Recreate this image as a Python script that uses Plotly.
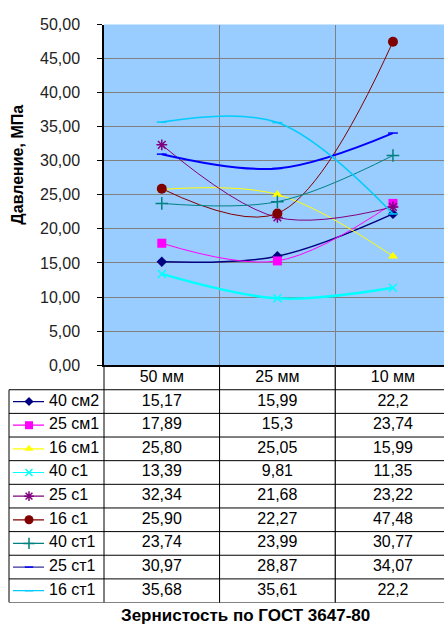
import plotly.graph_objects as go

# ---------------- data ----------------
categories = ["50 мм", "25 мм", "10 мм"]
series_names = ["40 см2", "25 см1", "16 см1", "40 с1", "25 с1",
                "16 с1", "40 ст1", "25 ст1", "16 ст1"]
s_40sm2 = ["15,17", "15,99", "22,2"]
s_25sm1 = ["17,89", "15,3", "23,74"]
s_16sm1 = ["25,80", "25,05", "15,99"]
s_40s1 = ["13,39", "9,81", "11,35"]
s_25s1 = ["32,34", "21,68", "23,22"]
s_16s1 = ["25,90", "22,27", "47,48"]
s_40st1 = ["23,74", "23,99", "30,77"]
s_25st1 = ["30,97", "28,87", "34,07"]
s_16st1 = ["35,68", "35,61", "22,2"]
series_text = [s_40sm2, s_25sm1, s_16sm1, s_40s1, s_25s1,
               s_16s1, s_40st1, s_25st1, s_16st1]
y_ticks = [0, 5, 10, 15, 20, 25, 30, 35, 40, 45, 50]

# ---------------- style ----------------
colors = ["#000080", "#FF00FF", "#FFFF00", "#00FFFF", "#800080",
          "#800000", "#008080", "#0000FF", "#00CCFF"]
key_colors = ["#000080", "#FF00FF", "#FFFF00", "#00FFFF", "#800080",
              "#800000", "#008080", "#333399", "#00CCFF"]
symbols = ["diamond", "square", "triangle-up", "x-thin", "asterisk-open",
           "circle", "cross-thin", "line-ew", "line-ew"]
msizes = [8, 9, 9, 8, 9, 10, 9, 7, 7]
lwidths = [1.5, 1, 1, 2.5, 1, 1, 1, 2, 1.5]

W, H = 444, 631
FONT = "Arial, Liberation Sans, sans-serif"


def px(x):
    return x / W


def py(y):
    return 1 - y / H


x_idx = list(range(len(categories)))
fig = go.Figure()

# plot lines
for name, txt, c, sym, ms, lw in zip(series_names, series_text, colors,
                                     symbols, msizes, lwidths):
    vals = [float(t.replace(",", ".")) for t in txt]
    open_sym = sym in ("x-thin", "asterisk-open", "cross-thin", "line-ew")
    fig.add_trace(go.Scatter(
        x=x_idx, y=vals, mode="lines+markers", name=name,
        line=dict(color=c, width=lw, shape="spline", smoothing=1.0),
        marker=dict(symbol=sym, size=ms, color=c,
                    line=dict(color=c, width=1.5 if open_sym else 0)),
        xaxis="x", yaxis="y", showlegend=False, cliponaxis=False))

# table header
fig.add_trace(go.Scatter(
    x=x_idx, y=[-1] * len(categories), text=categories, mode="text",
    textfont=dict(family=FONT, size=16, color="black"),
    xaxis="x", yaxis="y2", showlegend=False, cliponaxis=False))

# table values + legend keys
for i, (name, txt, c, kc, sym, ms) in enumerate(zip(
        series_names, series_text, colors, key_colors, symbols, msizes)):
    fig.add_trace(go.Scatter(
        x=x_idx, y=[i] * len(txt), text=txt, mode="text",
        textfont=dict(family=FONT, size=16, color="black"),
        xaxis="x", yaxis="y2", showlegend=False, cliponaxis=False))
    open_sym = sym in ("x-thin", "asterisk-open", "cross-thin", "line-ew")
    fig.add_trace(go.Scatter(
        x=[4, 35], y=[i, i], mode="lines",
        line=dict(color=kc, width=1.2),
        xaxis="x3", yaxis="y2", showlegend=False, cliponaxis=False))
    fig.add_trace(go.Scatter(
        x=[20], y=[i], mode="markers",
        marker=dict(symbol=sym, size=ms - 1, color=c,
                    line=dict(color=c, width=1.5 if open_sym else 0)),
        xaxis="x3", yaxis="y2", showlegend=False, cliponaxis=False))
    fig.add_trace(go.Scatter(
        x=[40], y=[i], text=[name], mode="text", textposition="middle right",
        textfont=dict(family=FONT, size=16, color="black"),
        xaxis="x3", yaxis="y2", showlegend=False, cliponaxis=False))

# plot-area background and table grid lines
n = len(series_names)
shapes = [dict(type="rect", xref="x domain", yref="y domain",
               x0=0, x1=1, y0=0, y1=1, fillcolor="#99CCFF",
               line=dict(width=0), layer="below")]
lc = dict(color="black", width=1)
for k in range(n + 1):
    shapes.append(dict(type="line", xref="paper", yref="y2",
                       x0=px(9), x1=1, y0=k - 0.5, y1=k - 0.5, line=lc))
shapes.append(dict(type="line", xref="paper", yref="y2",
                   x0=px(9), x1=px(9), y0=-0.5, y1=n - 0.5, line=lc))
shapes.append(dict(type="line", xref="paper", yref="y2",
                   x0=px(104), x1=px(104), y0=-1.5, y1=n - 0.5, line=lc))
for b in [0.5, 1.5]:
    shapes.append(dict(type="line", xref="x", yref="y2",
                       x0=b, x1=b, y0=-1.5, y1=n - 0.5, line=lc))

fig.update_layout(
    width=W, height=H,
    margin=dict(l=0, r=0, t=0, b=0),
    paper_bgcolor="white",
    plot_bgcolor="white",
    separators=", ",
    font=dict(family=FONT, size=16, color="black"),
    xaxis=dict(domain=[px(104), 1], range=[-0.5, (444 - 162) / 115.5],
               tickvals=[0.5, 1.5], showticklabels=False, ticks="",
               showgrid=True, gridcolor="#808080", gridwidth=1,
               showline=True, linecolor="black", linewidth=1.5,
               zeroline=False, anchor="y", fixedrange=True),
    yaxis=dict(domain=[py(367), py(17)], range=[0, 50], tickvals=y_ticks,
               tickformat=".2f", ticks="outside", ticklen=5,
               tickcolor="black", ticklabelstandoff=14,
               tickfont=dict(family=FONT, size=16, color="#222222"),
               showgrid=True, gridcolor="#808080", gridwidth=1,
               showline=True, linecolor="black", linewidth=1.5,
               zeroline=False, anchor="x", fixedrange=True),
    yaxis2=dict(domain=[py(611), py(368)], range=[n - 0.5, -1.5],
                visible=False, anchor="x", fixedrange=True),
    xaxis3=dict(domain=[px(9), px(104)], range=[0, 95], visible=False,
                anchor="y2", fixedrange=True),
    shapes=shapes,
    annotations=[
        dict(text="<b>Давление, МПа</b>", textangle=-90, xref="paper",
             yref="paper", x=px(18), y=py(161), xanchor="center",
             yanchor="middle", showarrow=False,
             font=dict(family=FONT, size=16, color="black")),
        dict(text="<b>Зернистость по ГОСТ 3647-80</b>", xref="paper",
             yref="paper", x=px(245), y=py(624), xanchor="center",
             yanchor="middle", showarrow=False,
             font=dict(family=FONT, size=17, color="black")),
    ],
)

fig.write_html(
    "out.html",
    config={"displayModeBar": False},
    post_script="document.body.style.margin='0';"
                "document.body.style.overflow='hidden';",
)
